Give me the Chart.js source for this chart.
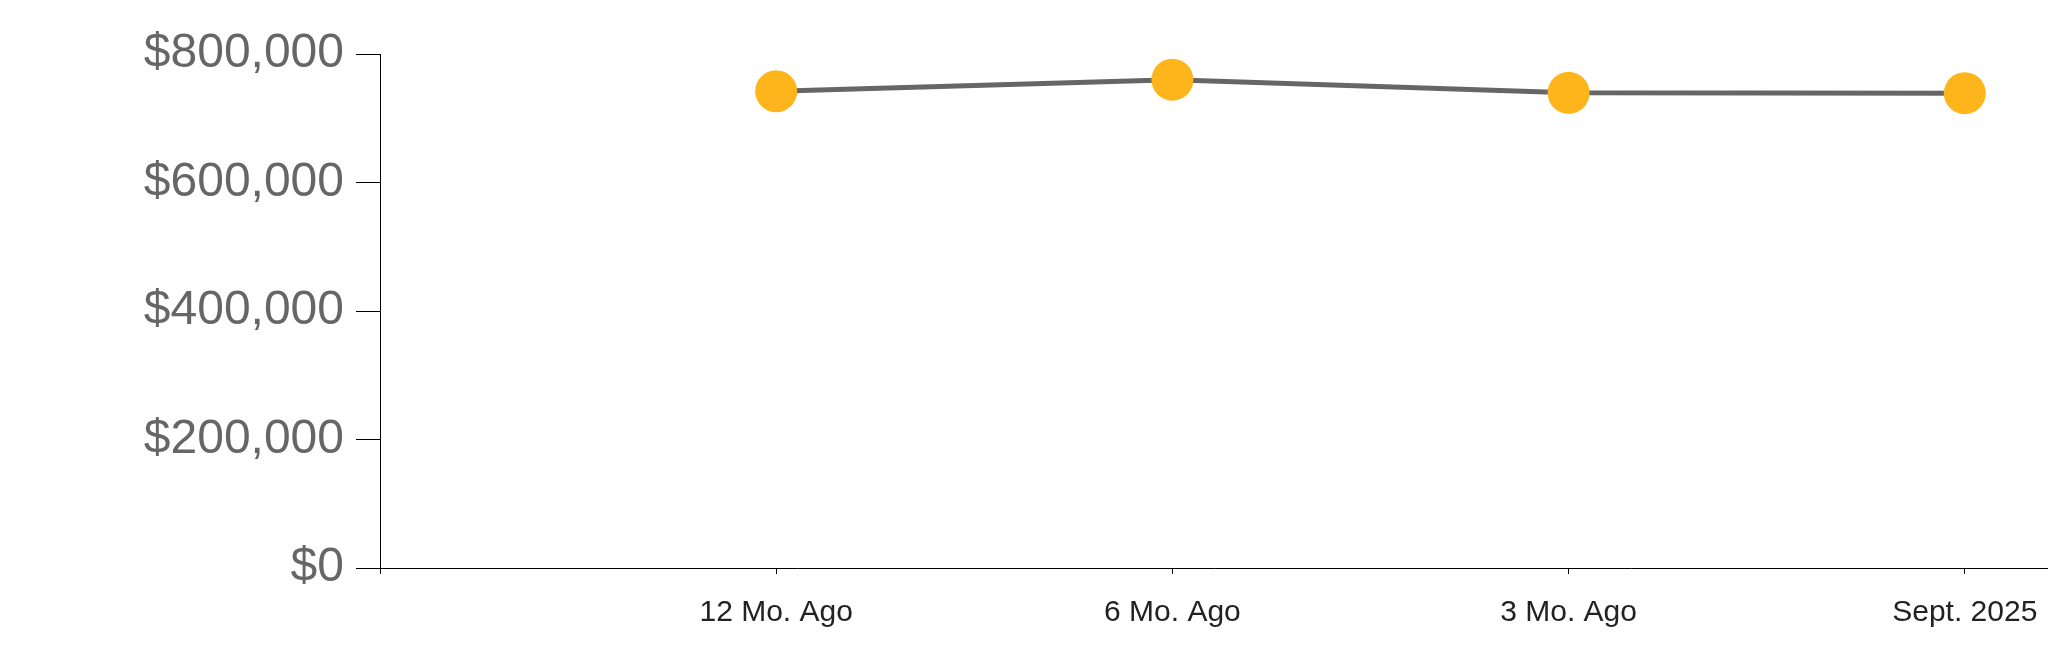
<!DOCTYPE html>
<html>
<head>
<meta charset="utf-8">
<title>Median Price</title>
<script src="https://cdn.jsdelivr.net/npm/chart.js@4"></script>
<style>
  html, body { margin: 0; padding: 0; background: #fff; }
  #wrap { width: 2048px; height: 663px; position: relative; }
</style>
</head>
<body>
<div id="wrap"><canvas id="price-chart"></canvas></div>
<script>
// chart data
const tickLabels = ['', '12 Mo. Ago', '6 Mo. Ago', '3 Mo. Ago', 'Sept. 2025'];
const periods = ['12 Mo. Ago', '6 Mo. Ago', '3 Mo. Ago', 'Sept. 2025'];
const medianPrice = [742000, 760000, 739500, 739000];
const yMax = 800000;
const yStep = 200000;

// points sit at positions 1..n, position 0 is the empty slot at the axis
const points = periods.map((p, i) => ({ x: tickLabels.indexOf(p), y: medianPrice[i] }));

const ctx = document.getElementById('price-chart').getContext('2d');
new Chart(ctx, {
  type: 'line',
  data: {
    datasets: [{
      label: 'Median Price',
      data: points,
      borderColor: '#666666',
      borderWidth: 5,
      backgroundColor: '#FDB51B',
      pointBackgroundColor: '#FDB51B',
      pointBorderWidth: 0,
      pointRadius: 21,
      pointHoverRadius: 21,
      tension: 0
    }]
  },
  options: {
    responsive: true,
    maintainAspectRatio: false,
    animation: false,
    // no auto room for the big points, the axis runs to the right edge
    layout: { autoPadding: false, padding: { top: 54, right: 0, bottom: 0, left: 0 } },
    plugins: { legend: { display: false }, tooltip: { enabled: false } },
    scales: {
      x: {
        type: 'linear',
        min: 0,
        max: 4.21,
        afterFit: s => { s.height = 95; s.paddingRight = 0; s.paddingLeft = 0; },
        border: { display: true, color: '#000', width: 1 },
        grid: { drawOnChartArea: false, drawTicks: true, tickLength: 6, color: '#000' },
        ticks: {
          stepSize: 1,
          includeBounds: false,
          padding: 21,
          color: '#222',
          font: { family: 'Liberation Sans, Arial, sans-serif', size: 30 },
          callback: v => tickLabels[v] ?? ''
        }
      },
      y: {
        min: 0,
        max: yMax,
        afterFit: s => { s.width = 380; },
        border: { display: true, color: '#000', width: 1 },
        grid: { drawOnChartArea: false, drawTicks: true, tickLength: 24, color: '#000' },
        ticks: {
          stepSize: yStep,
          padding: 12,
          color: '#666',
          font: { family: 'Liberation Sans, Arial, sans-serif', size: 48 },
          callback: v => '$' + v.toLocaleString('en-US')
        }
      }
    }
  }
});
</script>
</body>
</html>
